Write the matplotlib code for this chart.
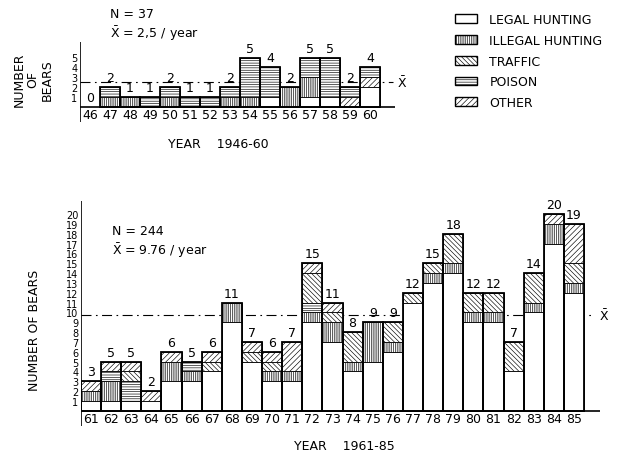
import matplotlib
matplotlib.use('Agg')
import matplotlib.pyplot as plt
from matplotlib.patches import Patch
import numpy as np

plt.rcParams['font.family'] = ['DejaVu Sans']
plt.rcParams['hatch.linewidth'] = 0.45

# ---------------- data ----------------
categories = ['LEGAL HUNTING', 'ILLEGAL HUNTING', 'TRAFFIC', 'POISON', 'OTHER']

years_top = [46, 47, 48, 49, 50, 51, 52, 53, 54, 55, 56, 57, 58, 59, 60]
legal_top = [0, 0, 0, 0, 0, 0, 0, 0, 0, 1, 0, 1, 1, 0, 2]
illegal_top = [0, 1, 1, 0, 1, 0, 0, 1, 1, 0, 2, 2, 0, 0, 0]
traffic_top = [0, 0, 0, 0, 0, 0, 0, 0, 0, 0, 0, 0, 0, 0, 0]
poison_top = [0, 1, 0, 1, 1, 1, 1, 1, 4, 3, 0, 2, 4, 1, 1]
other_top = [0, 0, 0, 0, 0, 0, 0, 0, 0, 0, 0, 0, 0, 1, 1]
mean_top = 2.5

years_bot = [61, 62, 63, 64, 65, 66, 67, 68, 69, 70, 71, 72, 73,
             74, 75, 76, 77, 78, 79, 80, 81, 82, 83, 84, 85]
legal_bot = [1, 1, 1, 1, 3, 3, 4, 9, 5, 3, 3, 9, 7, 4, 5, 6, 11, 13, 14, 9, 9, 4, 10, 17, 12]
illegal_bot = [1, 2, 0, 0, 2, 1, 0, 2, 0, 1, 1, 1, 2, 1, 4, 1, 0, 1, 1, 1, 1, 0, 1, 2, 1]
traffic_bot = [0, 0, 1, 0, 0, 0, 1, 0, 1, 1, 0, 3, 1, 3, 0, 2, 1, 1, 3, 2, 2, 3, 3, 0, 2]
poison_bot = [0, 1, 2, 0, 0, 1, 0, 0, 0, 0, 0, 1, 0, 0, 0, 0, 0, 0, 0, 0, 0, 0, 0, 0, 0]
other_bot = [1, 1, 1, 1, 1, 0, 1, 0, 1, 1, 3, 1, 1, 0, 0, 0, 0, 0, 0, 0, 0, 0, 0, 1, 4]
mean_bot = 9.76

yticks_top = [1, 2, 3, 4, 5]
yticks_bot = list(range(1, 21))

# ---------------- styles ----------------
hatches = {'LEGAL HUNTING': '', 'ILLEGAL HUNTING': '|||||||||',
           'TRAFFIC': '\\\\\\\\\\\\\\', 'POISON': '-------', 'OTHER': '//////'}
order_top = ['LEGAL HUNTING', 'ILLEGAL HUNTING', 'OTHER', 'POISON', 'TRAFFIC']
order_bot = ['LEGAL HUNTING', 'ILLEGAL HUNTING', 'POISON', 'TRAFFIC', 'OTHER']

W, H = 629, 456
fig = plt.figure(figsize=(W / 100, H / 100), dpi=100)


def px_axes(l, t, r, b):
    return fig.add_axes([l / W, 1 - b / H, (r - l) / W, (b - t) / H])


def draw_panel(ax, years, data, order, mean, mean_xmax, yticks, fs_y):
    years = np.array(years)
    bottom = np.zeros(len(years))
    for cat in order:
        vals = np.array(data[cat], dtype=float)
        m = vals > 0
        if m.any():
            ax.bar(years[m], vals[m], width=1, bottom=bottom[m], color='white',
                   edgecolor='black', hatch=hatches[cat], linewidth=0.6, zorder=2)
        bottom += vals
    m = bottom > 0
    ax.bar(years[m], bottom[m], width=1, fill=False, edgecolor='black',
           linewidth=1.3, zorder=3)
    for x, t in zip(years, bottom):
        ax.text(x, t + 0.3, str(int(t)), ha='center', va='bottom', fontsize=9, zorder=4)
    for x in years:
        ax.text(x, ax.get_ylim()[0] * 0.52, str(x), ha='center', va='center', fontsize=9)
    ax.axhline(0, color='black', lw=1.2, zorder=3)
    ax.axvline(ax.get_xlim()[0], color='black', lw=1.2, zorder=3)
    ax.axhline(mean, xmin=0, xmax=mean_xmax, color='black', lw=0.8,
               ls=(0, (9, 4, 1.5, 4)), zorder=1)
    ax.text(mean_xmax + 0.012, mean, r'$\bar{\mathrm{X}}$', transform=ax.get_yaxis_transform(),
            ha='left', va='center', fontsize=9)
    for s in ax.spines.values():
        s.set_visible(False)
    ax.set_xticks([])
    ax.set_yticks(yticks)
    ax.set_yticklabels([str(v) for v in yticks], fontsize=fs_y)
    ax.tick_params(axis='y', length=0, pad=2)


# ---------------- top panel ----------------
ax1 = px_axes(80, 43, 395, 123)
ax1.set_xlim(45.5, 45.5 + 315 / 20)
ax1.set_ylim(-15 / 9.9, 65 / 9.9)
data_top = {'LEGAL HUNTING': legal_top, 'ILLEGAL HUNTING': illegal_top,
            'TRAFFIC': traffic_top, 'POISON': poison_top, 'OTHER': other_top}
draw_panel(ax1, years_top, data_top, order_top, mean_top, 313 / 315, yticks_top, 7)

# ---------------- bottom panel ----------------
ax2 = px_axes(81, 202, 600, 427)
ax2.set_xlim(60.5, 60.5 + 519 / 20.12)
ax2.set_ylim(-15.3 / 9.83, 209.7 / 9.83)
data_bot = {'LEGAL HUNTING': legal_bot, 'ILLEGAL HUNTING': illegal_bot,
            'TRAFFIC': traffic_bot, 'POISON': poison_bot, 'OTHER': other_bot}
draw_panel(ax2, years_bot, data_bot, order_bot, mean_bot, 512 / 519, yticks_bot, 7)

# ---------------- texts ----------------
fig.text(110 / W, 1 - 15 / H, 'N = 37', fontsize=9, va='center')
fig.text(110 / W, 1 - 34 / H, r'$\bar{\mathrm{X}}$ = 2,5 / year', fontsize=9, va='center')
fig.text(112 / W, 1 - 232 / H, 'N = 244', fontsize=9, va='center')
fig.text(112 / W, 1 - 251 / H, r'$\bar{\mathrm{X}}$ = 9.76 / year', fontsize=9, va='center')

fig.text(33 / W, 1 - 80 / H, 'NUMBER\nOF\nBEARS', rotation=90, ha='center', va='center',
         multialignment='center', fontsize=9, linespacing=1.1)
fig.text(35 / W, 1 - 330 / H, 'NUMBER OF BEARS', rotation=90, ha='center', va='center',
         fontsize=9)
fig.text(218 / W, 1 - 144 / H, 'YEAR    1946-60', ha='center', va='center', fontsize=9)
fig.text(344 / W, 1 - 447 / H, 'YEAR    1961-85', ha='center', va='center', fontsize=9)

# ---------------- legend ----------------
handles = [Patch(facecolor='white', edgecolor='black', hatch=hatches[c], linewidth=1.0)
           for c in categories]
fig.legend(handles=handles, labels=categories, loc='upper left',
           bbox_to_anchor=(455 / W, 1 - 14 / H), frameon=False, fontsize=9,
           handlelength=1.75, handleheight=0.7, handletextpad=1.0,
           labelspacing=0.62, borderpad=0, borderaxespad=0)

fig.savefig('out.png', dpi=100)
